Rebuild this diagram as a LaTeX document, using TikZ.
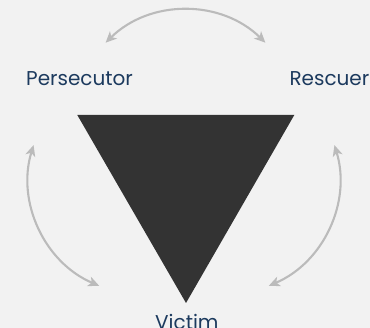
\documentclass[tikz,border=0pt]{standalone}
\usepackage{fontspec}
\setmainfont{Poppins}
\usetikzlibrary{arrows.meta,calc}
\definecolor{bgc}{HTML}{F2F2F2}
\definecolor{tri}{HTML}{333333}
\definecolor{lbl}{HTML}{1C3A5E}
\definecolor{arr}{HTML}{BBBBBB}
\tikzset{
  lab/.style={anchor=base west, inner sep=0pt, text=lbl, font=\fontsize{20bp}{22bp}\selectfont},
  cyc/.style={draw=arr, line width=2.1bp, {Stealth[length=11bp,width=10bp,inset=3bp]}-{Stealth[length=11bp,width=10bp,inset=3bp]}}
}
\begin{document}
\begin{tikzpicture}[x=1bp,y=1bp]
\fill[bgc] (0,0) rectangle (370,328);
\clip (0,0) rectangle (370,328);
\useasboundingbox (0,0) rectangle (370,328);
\fill[tri] (77.3,213) -- (294.3,213) -- (186,25) -- cycle;
\node[lab] (pers) at (26,243) {Persecutor};
\node[lab, anchor=base east] (resc) at (369.5,243) {Rescuer};
\node[lab] (vict) at (155,-1) {Victim};
\coordinate (t1) at ($(185.5,204)+(134.5:114)$);
\coordinate (l1) at ($(144.5,149)+(163:116)$);
\coordinate (r1) at ($(223.5,149)+(17:116)$);
\path[cyc] (t1) arc[start angle=134.5, end angle=45.5, radius=114];
\path[cyc] (l1) arc[start angle=163, end angle=247, radius=116];
\path[cyc] (r1) arc[start angle=17, end angle=-67, radius=116];
\end{tikzpicture}
\end{document}
